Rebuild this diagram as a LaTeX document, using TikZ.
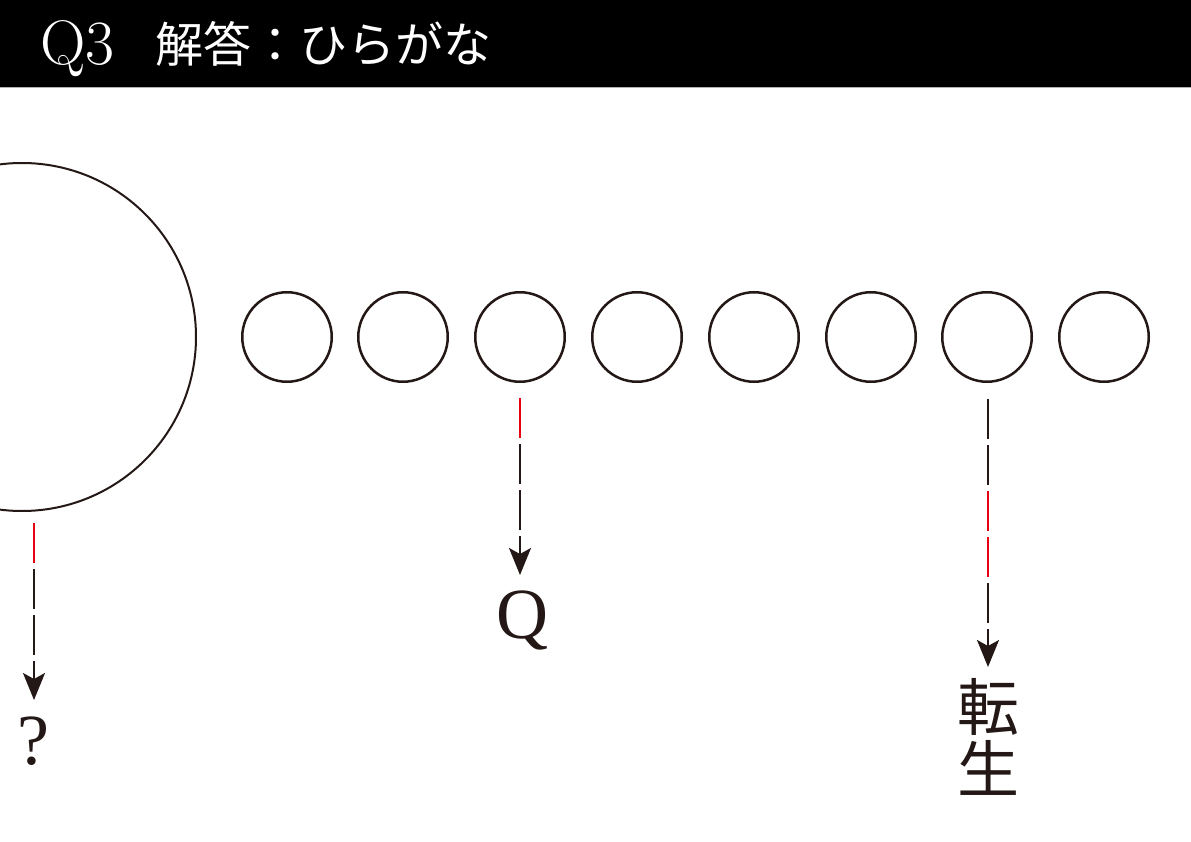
\documentclass[tikz,border=0pt]{standalone}
\usepackage{fontspec}
\newfontfamily\cjk{Noto Sans CJK JP}
\newfontfamily\lserif{Liberation Serif}
\usetikzlibrary{arrows.meta}
\definecolor{ink}{HTML}{231815}
\definecolor{redd}{HTML}{E60012}
\begin{document}
\begin{tikzpicture}[x=1pt,y=-1pt,
  ring/.style={circle,draw=ink,line width=2.5pt,minimum size=89.5pt,inner sep=0pt},
  bigring/.style={circle,draw=ink,line width=2pt,minimum size=348pt,inner sep=0pt},
  conn/.style={draw=ink,line width=2pt,dash pattern=on 40pt off 6pt,
    -{Stealth[length=27pt,width=22pt,inset=6pt]}},
  redseg/.style={draw=redd,line width=2.2pt},
  lbl/.style={text=ink,inner sep=0pt,font=\lserif\fontsize{72}{72}\selectfont},
  kanji/.style={text=ink,inner sep=0pt,font=\cjk\fontsize{62}{62}\selectfont},
  headtxt/.style={text=white,inner sep=0pt,anchor=base west}]
\useasboundingbox (0,0) rectangle (1191,842);
% header
\fill[black] (0,0) rectangle (1191,87);
\draw[gray!60,line width=1pt] (0,87.5) -- (1191,87.5);
\node[headtxt,font=\fontsize{63}{63}\selectfont] (hq) at (40,65) {Q3};
\node[headtxt,font=\cjk\fontsize{48}{48}\selectfont] (ht) at (155,63) {解答：ひらがな};
% big circle
\node[bigring] (big) at (22,337) {};
% small circles
\foreach \i/\x in {1/287,2/403,3/520,4/637,5/754,6/871,7/987,8/1104}
  \node[ring] (c\i) at (\x,337) {};
% connector 1
\coordinate (s1) at (34,523);
\coordinate (e1) at (34,700);
\coordinate (r1) at (34,563);
\draw[conn] (s1) -- (e1);
\draw[redseg] (s1) -- (r1);
\node[lbl,anchor=base] (l1) at (33,764) {?};
% connector 2
\coordinate (s2) at (520,398);
\coordinate (e2) at (520,575);
\coordinate (r2) at (520,438);
\draw[conn] (s2) -- (e2);
\draw[redseg] (s2) -- (r2);
\node[lbl,anchor=base] (l2) at (522,638) {Q};
% connector 3
\coordinate (s3) at (988,399);
\coordinate (e3) at (988,667);
\coordinate (r3a) at (988,491);
\coordinate (r3b) at (988,531);
\coordinate (r3c) at (988,537);
\coordinate (r3d) at (988,577);
\draw[conn] (s3) -- (e3);
\draw[redseg] (r3a) -- (r3b);
\draw[redseg] (r3c) -- (r3d);
\node[kanji,anchor=base] (k1) at (988,730) {転};
\node[kanji,anchor=base] (k2) at (988,792) {生};
\end{tikzpicture}
\end{document}
